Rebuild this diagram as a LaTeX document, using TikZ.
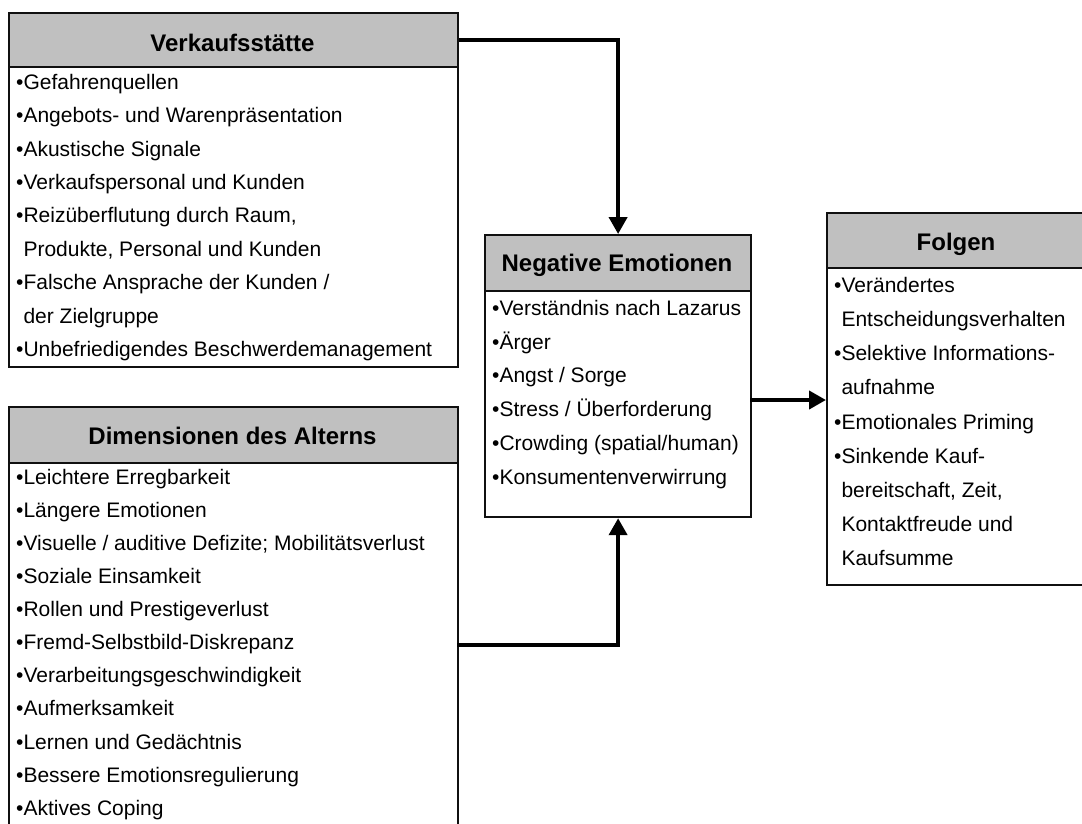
\documentclass[tikz,border=0pt]{standalone}
\usepackage{fontspec}
\setmainfont{Liberation Sans}
\usetikzlibrary{arrows.meta}
\definecolor{hdrgray}{HTML}{C0C0C0}
\definecolor{lineblk}{HTML}{101010}
\newcommand{\firstline}{\rule{0pt}{22pt}}
\tikzset{
  boxbody/.style={draw=lineblk, line width=2.2pt, fill=white, inner sep=0pt, outer sep=1.1pt, anchor=north west},
  boxhead/.style={draw=lineblk, line width=2.2pt, fill=hdrgray, inner sep=0pt, outer sep=1.1pt, anchor=north west},
  headtxt/.style={anchor=base, inner sep=0pt, font={\fontsize{24}{28}\selectfont\bfseries}},
  bodytxt/.style={anchor=north west, inner sep=0pt, align=left},
  arr/.style={draw=black, line width=4pt, -{Triangle[length=17pt,width=18pt]}},
}
\begin{document}
\begin{tikzpicture}[x=1pt,y=-1pt]
\clip (0,0) rectangle (1082,823);
\fill[white] (0,0) rectangle (1082,823);

% Verkaufsstaette
\node[boxbody, minimum width=449pt, minimum height=354pt] (vk) at (8,12) {};
\node[boxhead, minimum width=449pt, minimum height=54pt] (vkh) at (8,12) {};
\node[headtxt] (vkt) at (232.5,51.5) {Verkaufsstätte};
\node[bodytxt, font={\fontsize{21}{33.4}\selectfont}] (vkl) at (16,67) {\firstline•Gefahrenquellen\\
•Angebots- und Warenpräsentation\\
•Akustische Signale\\
•Verkaufspersonal und Kunden\\
•Reizüberflutung durch Raum,\\
\hphantom{•}Produkte, Personal und Kunden\\
•Falsche Ansprache der Kunden /\\
\hphantom{•}der Zielgruppe\\
•Unbefriedigendes Beschwerdemanagement};

% Dimensionen des Alterns
\node[boxbody, minimum width=449pt, minimum height=440pt] (dim) at (8,406) {};
\node[boxhead, minimum width=449pt, minimum height=56pt] (dimh) at (8,406) {};
\node[headtxt] (dimt) at (232.5,444.5) {Dimensionen des Alterns};
\node[bodytxt, font={\fontsize{21}{33.1}\selectfont}] (diml) at (16,462) {\firstline•Leichtere Erregbarkeit\\
•Längere Emotionen\\
•Visuelle / auditive Defizite; Mobilitätsverlust\\
•Soziale Einsamkeit\\
•Rollen und Prestigeverlust\\
•Fremd-Selbstbild-Diskrepanz\\
•Verarbeitungsgeschwindigkeit\\
•Aufmerksamkeit\\
•Lernen und Gedächtnis\\
•Bessere Emotionsregulierung\\
•Aktives Coping};

% Negative Emotionen
\node[boxbody, minimum width=266pt, minimum height=282pt] (neg) at (484,234) {};
\node[boxhead, minimum width=266pt, minimum height=56pt] (negh) at (484,234) {};
\node[headtxt] (negt) at (617,271.5) {Negative Emotionen};
\node[bodytxt, font={\fontsize{21}{33.8}\selectfont}] (negl) at (492,293) {\firstline•Verständnis nach Lazarus\\
•Ärger\\
•Angst / Sorge\\
•Stress / Überforderung\\
•Crowding (spatial/human)\\
•Konsumentenverwirrung};

% Folgen
\node[boxbody, minimum width=260pt, minimum height=372pt] (fol) at (826,212) {};
\node[boxhead, minimum width=260pt, minimum height=55pt] (folh) at (826,212) {};
\node[headtxt] (folt) at (956,250) {Folgen};
\node[bodytxt, font={\fontsize{21}{34.2}\selectfont}] (foll) at (834,270) {\firstline•Verändertes\\
\hphantom{•}Entscheidungsverhalten\\
•Selektive Informations-\\
\hphantom{•}aufnahme\\
•Emotionales Priming\\
•Sinkende Kauf-\\
\hphantom{•}bereitschaft, Zeit,\\
\hphantom{•}Kontaktfreude und\\
\hphantom{•}Kaufsumme};

% connectors
\coordinate (dimout) at (457,645);
\coordinate (negout) at (750,400);
\draw[arr] (vkh.east) -| (neg.north);
\draw[arr] (dimout) -| (neg.south);
\draw[arr] (negout) -- (negout -| fol.west);
\end{tikzpicture}
\end{document}
